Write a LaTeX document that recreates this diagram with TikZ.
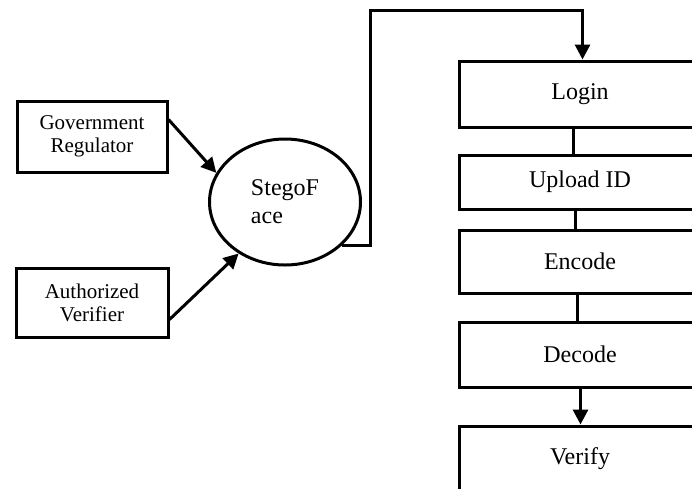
\documentclass[tikz,border=0pt]{standalone}
\usepackage{fontspec}
\setmainfont{Liberation Serif}
\usetikzlibrary{shapes.geometric,arrows.meta,calc}
\begin{document}
\begin{tikzpicture}[x=1pt,y=-1pt,
  box/.style={draw,line width=3pt,rectangle,inner sep=0pt,anchor=north west},
  lbox/.style={box,font=\fontsize{21}{23}\selectfont,align=center},
  rbox/.style={box,minimum width=242pt,font=\fontsize{24}{28}\selectfont},
  conn/.style={line width=3pt},
  arr/.style={conn,-{Triangle[length=15pt,width=15pt]}}]
\useasboundingbox (0,0) rectangle (692,488);
\clip (0,0) rectangle (692,488);
% left boxes
\node[lbox,minimum width=150pt,minimum height=71pt] (gov) at (15.5,99.5) {Government\\Regulator};
\node[lbox,minimum width=152pt,minimum height=69pt] (auth) at (14.5,266.5) {Authorized\\Verifier};
% central ellipse
\node[draw,line width=3pt,ellipse,inner sep=0pt,minimum width=151pt,minimum height=126pt,
      align=left,font=\fontsize{24}{28}\selectfont] (ell) at (285,202) {StegoF\\ace};
% right column
\node[rbox,minimum height=66pt] (login) at (457.5,59.5) {Login};
\node[rbox,minimum height=54pt] (upload) at (457.5,153.5) {Upload ID};
\node[rbox,minimum height=63pt] (encode) at (457.5,228.5) {Encode};
\node[rbox,minimum height=65pt] (decode) at (457.5,320.5) {Decode};
\node[rbox,minimum height=66pt] (verify) at (457.5,424.5) {Verify};
% connectors
\coordinate (bend) at (370,10);
\draw[arr] ($(gov.east)+(0,-17)$) -- (ell.157);
\draw[arr] ($(auth.east)+(0,17)$) -- (ell.228);
\draw[arr] (ell.323) -| (bend) -| ([xshift=2.5pt]login.north);
\draw[conn] ([xshift=-6.5pt]login.south) -- ([xshift=-6.5pt]upload.north);
\draw[conn] ([xshift=-4.5pt]upload.south) -- ([xshift=-4.5pt]encode.north);
\draw[conn] ([xshift=-2.5pt]encode.south) -- ([xshift=-2.5pt]decode.north);
\draw[arr] ([xshift=0.5pt]decode.south) -- ([xshift=0.5pt]verify.north);
\end{tikzpicture}
\end{document}
